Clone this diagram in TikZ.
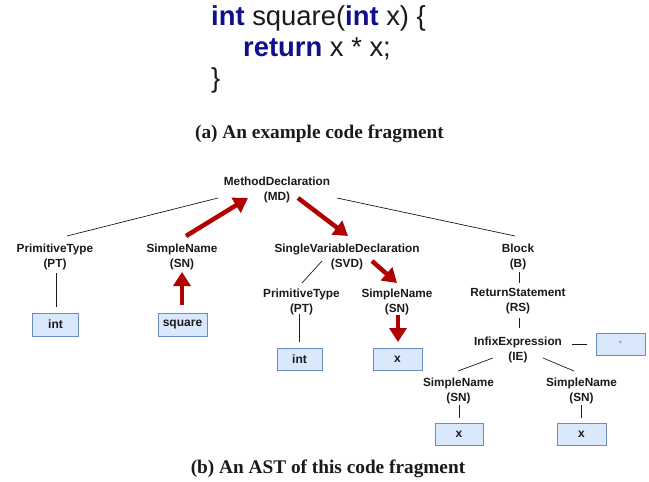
\documentclass[tikz,border=0pt]{standalone}
\usepackage{fontspec}
\setmainfont{Liberation Serif}
\newfontfamily\labfont{Liberation Sans}
\usetikzlibrary{arrows.meta,calc}
\definecolor{boxfill}{HTML}{DAE8FC}
\definecolor{boxdraw}{HTML}{6C8EBF}
\definecolor{redarr}{HTML}{B20000}
\definecolor{kw}{RGB}{16,16,140}
\definecolor{ink}{HTML}{1A1A1A}
\begin{document}
\begin{tikzpicture}[x=1pt,y=-1pt,
  astlabel/.style={font=\labfont\bfseries\fontsize{11.8}{15}\selectfont, align=center, inner sep=0pt, text=ink},
  leafbox/.style={draw=boxdraw, fill=boxfill, line width=0.8pt, inner sep=0pt,
    font=\labfont\bfseries\fontsize{12}{14}\selectfont, text=ink},
  plainedge/.style={line width=0.7pt, draw=ink},
  hotarrow/.style={draw=redarr, line width=4.5pt, -{Triangle[width=17pt,length=14pt]}},
  codeline/.style={font=\labfont\fontsize{27.4}{31}\selectfont, anchor=base west, inner sep=0pt, text=ink},
  captext/.style={font=\bfseries\fontsize{19.3}{22}\selectfont, anchor=base, inner sep=0pt, text=ink}]
\useasboundingbox[fill=white] (0,0) rectangle (649,482);

% code fragment
\node[codeline] (c1) at (211,25) {\textcolor{kw}{\bfseries int} square(\textcolor{kw}{\bfseries int} x) \{};
\node[codeline] (c2) at (243,56) {\textcolor{kw}{\bfseries return} x * x;};
\node[codeline] (c3) at (211,87) {\}};
\node[captext] (capa) at (319.5,138) {(a) An example code fragment};

% AST labels
\node[astlabel] (MD) at (277,189.5) {MethodDeclaration\\(MD)};
\node[astlabel] (PT) at (55,256.5) {PrimitiveType\\(PT)};
\node[astlabel] (SN) at (182,256.5) {SimpleName\\(SN)};
\node[astlabel] (SVD) at (347,256.5) {SingleVariableDeclaration\\(SVD)};
\node[astlabel] (BL) at (518,256.5) {Block\\(B)};
\node[astlabel] (PT2) at (301.5,301.5) {PrimitiveType\\(PT)};
\node[astlabel] (SN2) at (397,301.5) {SimpleName\\(SN)};
\node[astlabel] (RS) at (518,301.5) {ReturnStatement\\(RS)};
\node[astlabel] (IE) at (518,349.5) {InfixExpression\\(IE)};
\node[astlabel] (SN3) at (458.5,391) {SimpleName\\(SN)};
\node[astlabel] (SN4) at (581.5,391) {SimpleName\\(SN)};

% leaves
\node[leafbox, minimum width=46pt, minimum height=23pt] (L1) at (55.5,324.5) {int};
\node[leafbox, minimum width=49pt, minimum height=23pt] (L2) at (182.5,324.5) {square};
\node[leafbox, minimum width=45pt, minimum height=22pt] (L3) at (299.5,359) {int};
\node[leafbox, minimum width=49pt, minimum height=22pt] (L4) at (397.5,359) {x};
\node[leafbox, minimum width=49pt, minimum height=22pt, font=\labfont\fontsize{8}{9}\selectfont, text=gray] (L5) at (620.5,344) {*};
\node[leafbox, minimum width=48pt, minimum height=22pt] (L6) at (459,434) {x};
\node[leafbox, minimum width=49pt, minimum height=22pt] (L7) at (581.5,434) {x};

% plain edges
\draw[plainedge] ($(MD)+(-59,8.5)$) -- ($(PT)+(12,-20.5)$);
\draw[plainedge] ($(MD)+(60,8.5)$) -- ($(BL)+(-3,-20.5)$);
\draw[plainedge] ($(SVD)+(-25,4.5)$) -- ($(PT2)+(0.5,-18.5)$);
\draw[plainedge] ($(PT)+(1,16.5)$) -- ($(L1)+(0.5,-17.5)$);
\draw[plainedge] ($(PT2)+(-2.5,12.5)$) -- ($(L3)+(-0.5,-17)$);
\draw[plainedge] ($(BL)+(1,15.5)$) -- ($(RS)+(1,-18.5)$);
\draw[plainedge] ($(RS)+(1,16.5)$) -- ($(IE)+(1,-21.5)$);
\draw[plainedge] ($(IE)+(54,-5.5)$) -- ($(L5)+(-33.5,0)$);
\draw[plainedge] ($(IE)+(-25,8.5)$) -- ($(SN3)+(-0.5,-20)$);
\draw[plainedge] ($(IE)+(25,8.5)$) -- ($(SN4)+(-7.5,-20)$);
\draw[plainedge] ($(SN3)+(0.5,14)$) -- ($(L6)+(0,-16)$);
\draw[plainedge] ($(SN4)+(0,14)$) -- ($(L7)+(0,-16)$);

% highlighted path
\draw[hotarrow] ($(L2)+(-0.5,-19.5)$) -- ($(SN)+(0,15.5)$);
\draw[hotarrow] ($(SN)+(4,-20.5)$) -- ($(MD)+(-29,8.5)$);
\draw[hotarrow] ($(MD)+(21,8.5)$) -- ($(SVD)+(1,-20.5)$);
\draw[hotarrow] ($(SVD)+(25,4.5)$) -- ($(SN2)+(0,-18.5)$);
\draw[hotarrow] ($(SN2)+(1,13.5)$) -- ($(L4)+(0.5,-17)$);

\node[captext] (capb) at (328,473) {(b) An AST of this code fragment};
\end{tikzpicture}
\end{document}
